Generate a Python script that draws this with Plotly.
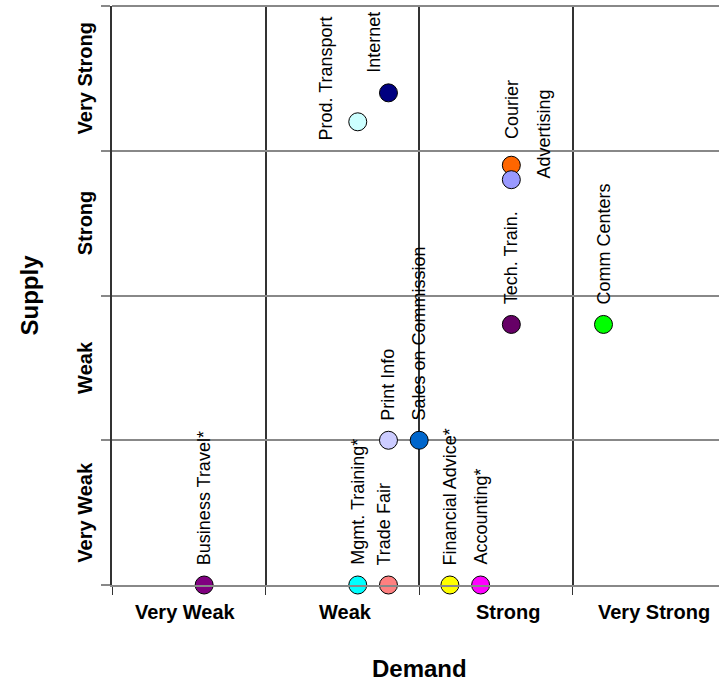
import plotly.graph_objects as go

# Service categories rated on demand (x) and supply (y), 0-4 scale
services = [
    "Business Travel*", "Mgmt. Training*", "Trade Fair", "Print Info",
    "Sales on Commission", "Financial Advice*", "Accounting*", "Tech. Train.",
    "Comm Centers", "Courier", "Advertising", "Prod. Transport", "Internet",
]
demand = [0.6, 1.6, 1.8, 1.8, 2.0, 2.2, 2.4, 2.6, 3.2, 2.6, 2.6, 1.6, 1.8]
supply = [0.0, 0.0, 0.0, 1.0, 1.0, 0.0, 0.0, 1.8, 1.8, 2.9, 2.8, 3.2, 3.4]
colors = [
    "#800080", "#00FFFF", "#FF8080", "#CCCCFF", "#0066CC", "#FFFF00",
    "#FF00FF", "#660066", "#00FF00", "#FF6600", "#9999FF", "#CCFFFF",
    "#000080",
]

levels = ["Very Weak", "Weak", "Strong", "Very Strong"]
x_level_pos = [0.48, 1.52, 2.58, 3.53]
y_level_pos = [0.5, 1.5, 2.5, 3.5]

FONT = "Liberation Sans, Arial, sans-serif"

# Label placement (pixel shifts from the marker centre); default sits above
label_shift = {
    "Prod. Transport": (-32, -20),
    "Internet": (-14, 19),
    "Advertising": (33, 0),
    "Courier": (0, 25),
    "Trade Fair": (-4, 19),
}

fig = go.Figure()
fig.add_trace(go.Scatter(
    x=demand, y=supply, mode="markers", cliponaxis=False,
    marker=dict(size=18, color=colors, line=dict(color="black", width=1)),
    hovertext=services, hoverinfo="text", showlegend=False,
))

annotations = []
for name, xv, yv in zip(services, demand, supply):
    dx, dy = label_shift.get(name, (0, 19))
    annotations.append(dict(
        x=xv, y=yv, xref="x", yref="y", text=name, showarrow=False,
        textangle=-90, xanchor="center", yanchor="bottom",
        xshift=dx, yshift=dy, borderpad=0,
        font=dict(family=FONT, size=18, color="black"),
    ))

for lbl, xv in zip(levels, x_level_pos):
    annotations.append(dict(
        x=xv, y=0, xref="x", yref="y", text=f"<b>{lbl}</b>",
        showarrow=False, xanchor="center", yanchor="middle", yshift=-27,
        font=dict(family=FONT, size=20, color="black"),
    ))
for lbl, yv in zip(levels, y_level_pos):
    annotations.append(dict(
        x=0, y=yv, xref="paper", yref="y", text=f"<b>{lbl}</b>",
        showarrow=False, xanchor="center", yanchor="middle", xshift=-27,
        textangle=-90, font=dict(family=FONT, size=20, color="black"),
    ))

annotations.append(dict(
    x=2.0, y=0, xref="x", yref="y", text="<b>Demand</b>",
    showarrow=False, xanchor="center", yanchor="middle", yshift=-83,
    font=dict(family=FONT, size=24, color="black"),
))
annotations.append(dict(
    x=0, y=2.0, xref="paper", yref="y", text="<b>Supply</b>",
    showarrow=False, xanchor="center", yanchor="middle", xshift=-83,
    textangle=-90, font=dict(family=FONT, size=24, color="black"),
))

# Top edge of the grid (the range top sits exactly on "Very Strong"'s upper bound)
shapes = [dict(
    type="line", xref="paper", yref="paper", x0=0, x1=1, y0=1, y1=1,
    line=dict(color="#888", width=2), layer="above",
)]

fig.update_layout(
    width=719, height=682,
    margin=dict(l=112, r=0, t=6, b=97),
    paper_bgcolor="white", plot_bgcolor="white",
    annotations=annotations, shapes=shapes,
    xaxis=dict(
        range=[0, 3.952], tickvals=[0, 1, 2, 3, 4], showticklabels=False,
        ticks="outside", ticklen=8, tickcolor="#333", tickwidth=1,
        showgrid=True, gridcolor="#333", gridwidth=1.5, zeroline=False,
        showline=True, linecolor="#888", linewidth=2, fixedrange=True,
    ),
    yaxis=dict(
        range=[0, 4], tickvals=[0, 1, 2, 3, 4], showticklabels=False,
        ticks="outside", ticklen=9, tickcolor="#888", tickwidth=2,
        showgrid=True, gridcolor="#888", gridwidth=2, zeroline=False,
        showline=True, linecolor="#333", linewidth=1.5, fixedrange=True,
    ),
)

fig.write_html("out.html")
